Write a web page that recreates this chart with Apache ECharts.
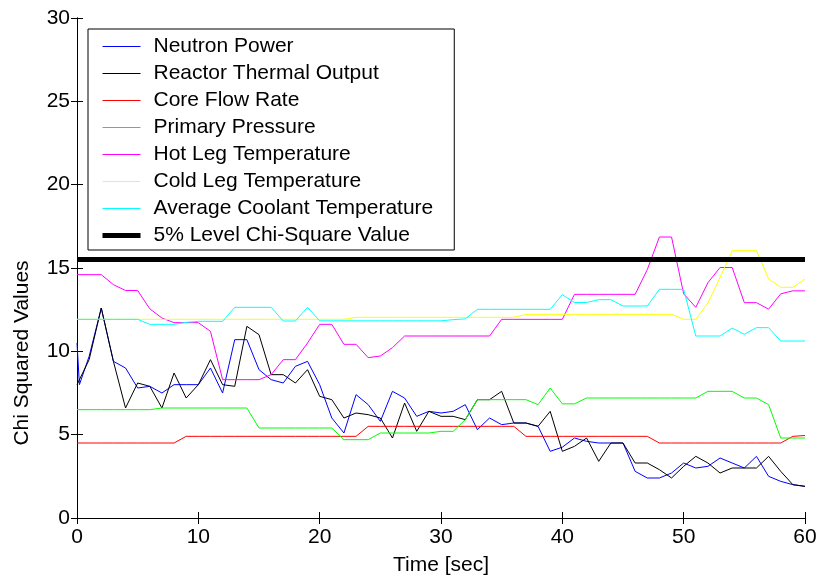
<!DOCTYPE html>
<html>
<head>
<meta charset="utf-8">
<script src="https://cdn.jsdelivr.net/npm/echarts@6/dist/echarts.min.js"></script>
<style>
  html, body { margin: 0; padding: 0; background: #ffffff; }
  #chart { width: 820px; height: 581px; }
</style>
</head>
<body>
<div id="chart"></div>
<script>
// Sample times in seconds
const time = [0,1,2,3,4,5,6,7,8,9,10,11,12,13,14,15,16,17,18,19,20,
  21,22,23,24,25,26,27,28,29,30,31,32,33,34,35,36,37,38,39,40,
  41,42,43,44,45,46,47,48,49,50,51,52,53,54,55,56,57,58,59,60];

// Neutron power has one extra sample right at start-up
const neutronPowerTime = [0,0.2,1,2,3,4,5,6,7,8,9,10,11,12,13,14,15,16,17,18,19,20,
  21,22,23,24,25,26,27,28,29,30,31,32,33,34,35,36,37,38,39,40,
  41,42,43,44,45,46,47,48,49,50,51,52,53,54,55,56,57,58,59,60];

const neutronPower = [10.5,8.0,9.7,12.6,9.4,9.0,7.8,7.9,7.5,8.0,8.0,8.0,9.0,7.5,10.7,10.7,8.9,8.3,8.1,9.1,9.4,8.0,
  6.0,5.1,7.4,6.8,5.8,7.6,7.2,6.1,6.4,6.3,6.4,6.8,5.3,6.0,5.6,5.7,5.7,5.5,4.0,4.25,
  4.8,4.6,4.5,4.5,4.5,2.8,2.4,2.4,2.7,3.3,3.0,3.1,3.6,3.3,3.0,3.7,2.5,2.2,2.0,1.9];

const reactorThermalOutput = [8.0,9.5,12.6,9.4,6.6,8.1,7.9,6.6,8.7,7.2,8.0,9.5,8.0,7.9,11.5,11.0,8.6,8.6,8.1,8.9,7.3,
  7.1,6.0,6.3,6.2,6.0,4.8,6.9,5.2,6.4,6.1,6.1,5.9,7.1,7.1,7.6,5.7,5.7,5.5,6.4,4.0,
  4.3,4.8,3.4,4.5,4.5,3.3,3.3,2.9,2.4,3.1,3.7,3.3,2.7,3.0,3.0,3.0,3.7,2.8,2.0,1.9];

const coreFlowRate = [4.5,4.5,4.5,4.5,4.5,4.5,4.5,4.5,4.5,4.9,4.9,4.9,4.9,4.9,4.9,4.9,4.9,4.9,4.9,4.9,4.9,
  4.9,4.9,4.9,5.5,5.5,5.5,5.5,5.5,5.5,5.5,5.5,5.5,5.5,5.5,5.5,5.5,4.9,4.9,4.9,4.9,
  4.9,4.9,4.9,4.9,4.9,4.9,4.9,4.5,4.5,4.5,4.5,4.5,4.5,4.5,4.5,4.5,4.5,4.5,4.9,4.95];

const primaryPressure = [6.5,6.5,6.5,6.5,6.5,6.5,6.5,6.6,6.6,6.6,6.6,6.6,6.6,6.6,6.6,5.4,5.4,5.4,5.4,5.4,5.4,
  5.4,4.7,4.7,4.7,5.1,5.1,5.1,5.1,5.1,5.2,5.2,5.9,7.1,7.1,7.1,7.1,7.1,6.8,7.8,6.85,
  6.85,7.2,7.2,7.2,7.2,7.2,7.2,7.2,7.2,7.2,7.2,7.6,7.6,7.6,7.2,7.2,6.8,4.8,4.8,4.8];

const hotLegTemperature = [14.6,14.6,14.6,14.0,13.65,13.65,12.55,12.0,11.72,11.72,11.72,11.2,8.3,8.3,8.3,8.3,8.6,9.5,9.5,10.5,11.62,
  11.62,10.42,10.42,9.62,9.72,10.22,10.92,10.92,10.92,10.92,10.92,10.92,10.92,10.92,11.92,11.92,11.92,11.92,11.92,11.92,
  13.42,13.42,13.42,13.42,13.42,13.42,14.9,16.86,16.86,13.45,12.64,14.12,15.03,15.03,12.92,12.92,12.53,13.45,13.63,13.63];

const coldLegTemperature = [11.92,11.92,11.92,11.92,11.92,11.92,11.92,11.92,11.92,11.92,11.92,11.92,11.92,11.92,11.92,11.92,11.92,11.92,11.92,11.92,11.92,
  11.92,11.92,12.04,12.04,12.04,12.04,12.04,12.04,12.04,12.04,12.04,12.04,12.04,12.04,12.04,12.04,12.22,12.22,12.22,12.22,
  12.22,12.22,12.22,12.22,12.22,12.22,12.22,12.22,12.22,11.92,11.92,12.9,14.43,16.04,16.04,16.04,14.35,13.84,13.84,14.33];

const averageCoolantTemperature = [11.92,11.92,11.92,11.92,11.92,11.92,11.62,11.62,11.62,11.74,11.8,11.8,11.8,12.64,12.64,12.64,12.64,11.82,11.82,12.64,11.83,
  11.83,11.83,11.83,11.83,11.83,11.83,11.83,11.83,11.83,11.83,11.9,11.95,12.52,12.52,12.52,12.52,12.52,12.52,12.52,13.4,
  12.93,12.93,13.1,13.1,12.72,12.72,12.72,13.72,13.72,13.72,10.92,10.92,10.92,11.4,11.02,11.42,11.42,10.62,10.62,10.62];

// 5% significance level of the chi-square distribution
const chiSquare5pct = 15.51;
const thresholdTime = [0, 60];

const xTicks = { min: 0, max: 60, interval: 10 };
const yTicks = { min: 0, max: 30, interval: 5 };

const FONT = "'Liberation Sans', Arial, Helvetica, sans-serif";

function pairs(xs, ys) {
  return xs.map((x, i) => [x, ys[i]]);
}

function lineSeries(name, color, xs, ys, width) {
  return {
    name: name,
    type: 'line',
    xAxisIndex: 0,
    yAxisIndex: 0,
    data: pairs(xs, ys),
    symbol: 'none',
    showSymbol: false,
    lineStyle: { color: color, width: width },
    itemStyle: { color: color },
    emphasis: { disabled: true },
    animation: false
  };
}

const series = [
  lineSeries('Neutron Power', '#0000ff', neutronPowerTime, neutronPower, 1),
  lineSeries('Reactor Thermal Output', '#000000', time, reactorThermalOutput, 1),
  lineSeries('Core Flow Rate', '#ff0000', time, coreFlowRate, 1),
  lineSeries('Primary Pressure', '#00ff00', time, primaryPressure, 1),
  lineSeries('Hot Leg Temperature', '#ff00ff', time, hotLegTemperature, 1),
  lineSeries('Cold Leg Temperature', '#ffff00', time, coldLegTemperature, 1),
  lineSeries('Average Coolant Temperature', '#00ffff', time, averageCoolantTemperature, 1),
  lineSeries('5% Level Chi-Square Value', '#000000', thresholdTime, thresholdTime.map(() => chiSquare5pct), 5)
];

// Legend entries: plain line keys, matching each series' stroke (marker hidden)
const legendData = series.map(s => ({
  name: s.name,
  lineStyle: { color: s.lineStyle.color, width: s.lineStyle.width, opacity: 1 },
  itemStyle: { color: 'transparent', borderColor: 'transparent', borderWidth: 0 }
}));

const tickStyle = { inside: true, length: 6, lineStyle: { color: '#000', width: 1 } };
const lineStyleAxis = { show: true, lineStyle: { color: '#000', width: 1 } };
const labelStyle = { color: '#000', fontSize: 21, fontFamily: FONT };

const chart = echarts.init(document.getElementById('chart'), null, { renderer: 'canvas' });
chart.setOption({
  backgroundColor: '#ffffff',
  animation: false,
  grid: { left: 77, right: 15, top: 18, bottom: 63, containLabel: false },
  legend: {
    orient: 'vertical',
    left: 88,
    top: 29,
    itemWidth: 38,
    itemHeight: 15,
    itemGap: 6,
    padding: [7, 21, 4, 12],
    backgroundColor: '#ffffff',
    borderColor: '#000000',
    borderWidth: 1,
    borderRadius: 0,
    selectedMode: false,
    textStyle: { color: '#000', fontSize: 21, lineHeight: 21, fontFamily: FONT, padding: [0, 0, 0, 8] },
    data: legendData
  },
  graphic: [
    {
      type: 'text',
      x: 22,
      y: 353,
      rotation: Math.PI / 2,
      style: {
        text: 'Chi Squared Values',
        fill: '#000',
        fontSize: 21,
        fontFamily: FONT,
        align: 'center',
        verticalAlign: 'middle'
      }
    }
  ],
  xAxis: [
    {
      type: 'value', position: 'bottom',
      min: xTicks.min, max: xTicks.max, interval: xTicks.interval,
      name: 'Time [sec]', nameLocation: 'middle', nameGap: 37,
      nameTextStyle: { color: '#000', fontSize: 21, fontFamily: FONT },
      axisLine: lineStyleAxis, axisTick: tickStyle,
      axisLabel: Object.assign({ margin: 9 }, labelStyle),
      splitLine: { show: false }
    },
    {
      type: 'value', position: 'top',
      min: xTicks.min, max: xTicks.max, interval: xTicks.interval,
      axisLine: lineStyleAxis, axisTick: tickStyle,
      axisLabel: { show: false }, splitLine: { show: false }
    }
  ],
  yAxis: [
    {
      type: 'value', position: 'left',
      min: yTicks.min, max: yTicks.max, interval: yTicks.interval,
      axisLine: lineStyleAxis, axisTick: tickStyle,
      axisLabel: Object.assign({ margin: 7 }, labelStyle),
      splitLine: { show: false }
    },
    {
      type: 'value', position: 'right',
      min: yTicks.min, max: yTicks.max, interval: yTicks.interval,
      axisLine: lineStyleAxis, axisTick: tickStyle,
      axisLabel: { show: false }, splitLine: { show: false }
    }
  ],
  series: series
});
</script>
</body>
</html>
